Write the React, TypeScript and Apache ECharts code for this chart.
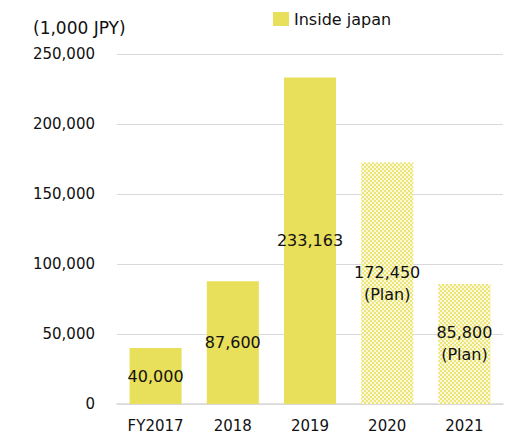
import React, { useEffect, useRef } from "react";
import * as echarts from "echarts";

const categories = ["FY2017", "2018", "2019", "2020", "2021"];
const values = [40000, 87600, 233163, 172450, 85800];
const isPlan = [false, false, false, true, true];
const seriesName = "Inside japan";
const axisName = "(1,000 JPY)";

const YELLOW = "#e8df5a";
const FONT = "DejaVu Sans";

export default function App() {
  const ref = useRef<HTMLDivElement>(null);
  useEffect(() => {
    const chart = echarts.init(ref.current!, undefined, { renderer: "svg" });
    const fmt = (v: number) => v.toLocaleString("en-US");
    chart.setOption({
      animation: false,
      textStyle: { fontFamily: FONT },
      legend: {
        top: 6,
        left: 268,
        itemWidth: 16,
        itemHeight: 14,
        itemGap: 8,
        textStyle: { fontSize: 16, color: "#111", fontFamily: FONT },
        data: [{ name: seriesName, icon: "rect" }],
      },
      grid: { left: 117, right: 7, top: 54, bottom: 40, containLabel: false },
      xAxis: {
        type: "category",
        data: categories,
        axisTick: { show: false },
        axisLine: { lineStyle: { color: "#d9d9d9", width: 1.5 } },
        axisLabel: { fontSize: 15, color: "#111", margin: 14, fontFamily: FONT },
      },
      yAxis: {
        type: "value",
        min: 0,
        max: 250000,
        interval: 50000,
        name: axisName,
        nameLocation: "end",
        nameGap: 18,
        nameTextStyle: { fontSize: 17, color: "#111", align: "left", padding: [0, 0, 0, -84], fontFamily: FONT },
        axisLabel: { fontSize: 15, color: "#111", margin: 22, formatter: (v: number) => fmt(v), fontFamily: FONT },
        splitLine: { lineStyle: { color: "#d9d9d9", width: 1 } },
        axisLine: { show: false },
        axisTick: { show: false },
      },
      series: [
        {
          name: seriesName,
          type: "bar",
          barWidth: 52,
          itemStyle: { color: YELLOW },
          label: {
            show: true,
            position: "inside",
            color: "#111",
            fontSize: 16,
            fontFamily: FONT,
            lineHeight: 22,
            formatter: (p: any) => fmt(p.value) + (isPlan[p.dataIndex] ? "\n(Plan)" : ""),
          },
          data: values.map((v, i) =>
            isPlan[i]
              ? {
                  value: v,
                  itemStyle: {
                    color: "#fbf8dc",
                    decal: {
                      symbol: "rect",
                      symbolSize: 1,
                      color: "#ece577",
                      dashArrayX: [[2, 2], [0, 2, 2, 0]],
                      dashArrayY: [2, 0],
                      rotation: 0,
                    },
                  },
                }
              : v
          ),
        },
      ],
    });
    return () => chart.dispose();
  }, []);
  return <div ref={ref} style={{ width: 510, height: 444, position: "absolute", left: 0, top: 0 }} />;
}
